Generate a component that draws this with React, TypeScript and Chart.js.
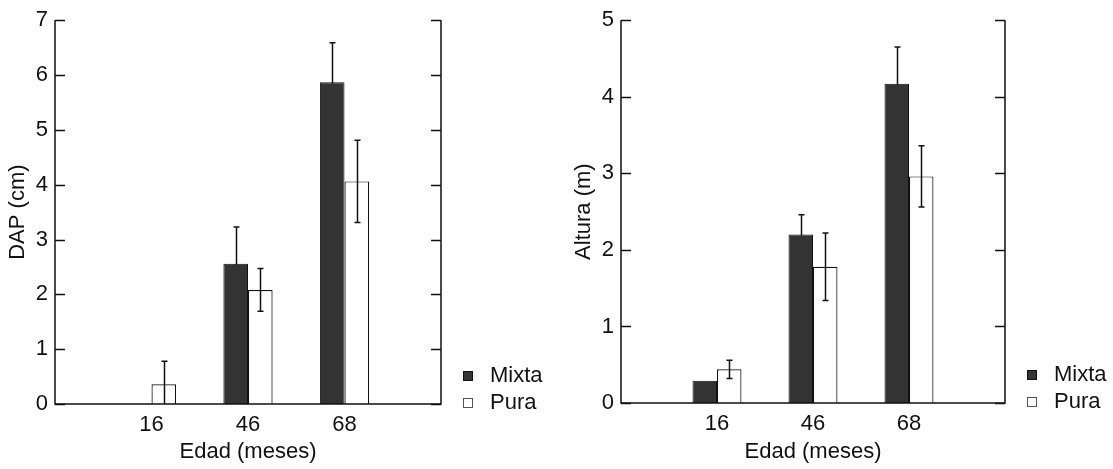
import React, { useEffect, useRef } from 'react';
import { Chart, registerables } from 'chart.js';
Chart.register(...registerables);

// ---------- data ----------
const categories = ['16', '46', '68'];
const seriesNames = ['Mixta', 'Pura'];
const xTitle = 'Edad (meses)';

const dapTitle = 'DAP (cm)';
const dapMax = 7;
const dapMixta = [null, 2.56, 5.87];
const dapMixtaErr = [null, 0.67, 0.72];
const dapPura = [0.36, 2.08, 4.06];
const dapPuraErr = [0.42, 0.39, 0.75];

const alturaTitle = 'Altura (m)';
const alturaMax = 5;
const alturaMixta = [0.29, 2.2, 4.17];
const alturaMixtaErr = [null, 0.26, 0.48];
const alturaPura = [0.44, 1.78, 2.96];
const alturaPuraErr = [0.12, 0.44, 0.4];

// ---------- style ----------
const FONT = "'Liberation Sans', Arial, sans-serif";
const FS = 22;
const INK = '#111111';
const DARK = '#333333';

const pad = (arr: (number | null)[]) => [null, ...arr, null];

function drawErrors(chart: any, behind: boolean) {
  const { ctx, scales } = chart;
  const y = scales.y;
  ctx.save();
  ctx.strokeStyle = INK;
  ctx.lineWidth = 1.5;
  chart.data.datasets.forEach((ds: any, di: number) => {
    if (!!ds.errorBehind !== behind) return;
    const meta = chart.getDatasetMeta(di);
    meta.data.forEach((el: any, i: number) => {
      const v = ds.data[i];
      const e = ds.errors ? ds.errors[i] : null;
      if (v == null || e == null) return;
      const x = Math.round(el.x) + 0.5;
      const yt = y.getPixelForValue(v + e);
      const yb = y.getPixelForValue(Math.max(0, v - e));
      ctx.beginPath();
      ctx.moveTo(x, yt);
      ctx.lineTo(x, yb);
      ctx.moveTo(x - 3, yt);
      ctx.lineTo(x + 3, yt);
      if (v - e > 0) {
        ctx.moveTo(x - 3, yb);
        ctx.lineTo(x + 3, yb);
      }
      ctx.stroke();
    });
  });
  ctx.restore();
}

const framePlugin = {
  id: 'frame',
  beforeDatasetsDraw(chart: any) {
    drawErrors(chart, true);
  },
  afterDatasetsDraw(chart: any) {
    const { ctx, chartArea: a, scales } = chart;
    const y = scales.y;
    drawErrors(chart, false);
    ctx.save();
    ctx.strokeStyle = INK;
    ctx.lineWidth = 1.5;
    // frame: left, right, bottom
    ctx.beginPath();
    ctx.moveTo(a.left, a.top);
    ctx.lineTo(a.left, a.bottom);
    ctx.lineTo(a.right, a.bottom);
    ctx.lineTo(a.right, a.top);
    ctx.stroke();
    // inward ticks
    y.ticks.forEach((t: any) => {
      const py = Math.round(y.getPixelForValue(t.value)) + 0.5;
      ctx.beginPath();
      ctx.moveTo(a.left, py);
      ctx.lineTo(a.left + 10, py);
      ctx.moveTo(a.right, py);
      ctx.lineTo(a.right - 10, py);
      ctx.stroke();
    });
    // legend
    ctx.font = `${FS}px ${FONT}`;
    ctx.textBaseline = 'middle';
    ctx.textAlign = 'left';
    chart.data.datasets.forEach((ds: any, di: number) => {
      const cy = a.bottom - 28 + di * 27;
      const cx = a.right + 27;
      ctx.fillStyle = ds.backgroundColor;
      ctx.fillRect(cx - 4.5, cy - 4.5, 9, 9);
      ctx.lineWidth = 1;
      ctx.strokeStyle = di === 0 ? INK : '#555';
      ctx.strokeRect(cx - 4.5, cy - 4.5, 9, 9);
      ctx.fillStyle = INK;
      ctx.fillText(ds.label, a.right + 49, cy);
    });
    ctx.restore();
  },
};

type PanelProps = {
  width: number;
  left: number;
  yTitle: string;
  yMax: number;
  mixta: (number | null)[];
  mixtaErr: (number | null)[];
  pura: (number | null)[];
  puraErr: (number | null)[];
  yAxisWidth: number;
  titlePad: number;
  padTop: number;
  padRight: number;
  xAxisHeight: number;
};

function Panel(p: PanelProps) {
  const ref = useRef<HTMLCanvasElement | null>(null);
  useEffect(() => {
    if (!ref.current) return;
    const chart = new Chart(ref.current, {
      type: 'bar',
      data: {
        labels: ['', ...categories, ''],
        datasets: [
          {
            label: seriesNames[0],
            data: pad(p.mixta),
            errors: pad(p.mixtaErr),
            errorBehind: true,
            backgroundColor: DARK,
            borderColor: INK,
            borderWidth: 1,
          } as any,
          {
            label: seriesNames[1],
            data: pad(p.pura),
            errors: pad(p.puraErr),
            backgroundColor: '#ffffff',
            borderColor: INK,
            borderWidth: 1.2,
            borderSkipped: 'bottom',
          } as any,
        ],
      },
      plugins: [framePlugin],
      options: {
        animation: false,
        responsive: false,
        devicePixelRatio: 1,
        layout: { padding: { top: p.padTop, right: p.padRight, left: 0, bottom: 0 } },
        datasets: { bar: { barPercentage: 1, categoryPercentage: 0.51 } },
        plugins: { legend: { display: false }, tooltip: { enabled: false } },
        scales: {
          x: {
            type: 'category',
            offset: false,
            grid: { display: false, drawTicks: false },
            border: { display: false },
            ticks: {
              autoSkip: false,
              maxRotation: 0,
              padding: 8,
              color: INK,
              font: { family: FONT, size: FS },
            },
            title: {
              display: true,
              text: xTitle,
              color: INK,
              font: { family: FONT, size: FS },
              padding: { top: 0, bottom: 4 },
            },
            afterFit: (s: any) => {
              s.height = p.xAxisHeight;
            },
          },
          y: {
            min: 0,
            max: p.yMax,
            grid: { display: false, drawTicks: false },
            border: { display: false },
            ticks: {
              stepSize: 1,
              padding: 7,
              color: INK,
              font: { family: FONT, size: FS },
            },
            title: {
              display: true,
              text: p.yTitle,
              color: INK,
              font: { family: FONT, size: FS },
              padding: { top: p.titlePad, bottom: 0 },
            },
            afterFit: (s: any) => {
              s.width = p.yAxisWidth;
            },
          },
        },
      } as any,
    });
    return () => chart.destroy();
  }, []);
  return (
    <canvas
      ref={ref}
      width={p.width}
      height={469}
      style={{ position: 'absolute', left: p.left, top: 0, width: p.width, height: 469 }}
    />
  );
}

export default function App() {
  return (
    <div
      style={{
        position: 'fixed',
        left: 0,
        top: 0,
        width: 1113,
        height: 469,
        background: '#ffffff',
        overflow: 'hidden',
      }}
    >
      <Panel
        width={556}
        left={0}
        yTitle={dapTitle}
        yMax={dapMax}
        mixta={dapMixta}
        mixtaErr={dapMixtaErr}
        pura={dapPura}
        puraErr={dapPuraErr}
        yAxisWidth={55}
        titlePad={5}
        padTop={16}
        padRight={115}
        xAxisHeight={65}
      />
      <Panel
        width={557}
        left={556}
        yTitle={alturaTitle}
        yMax={alturaMax}
        mixta={alturaMixta}
        mixtaErr={alturaMixtaErr}
        pura={alturaPura}
        puraErr={alturaPuraErr}
        yAxisWidth={65}
        titlePad={15}
        padTop={15}
        padRight={108}
        xAxisHeight={66}
      />
    </div>
  );
}
